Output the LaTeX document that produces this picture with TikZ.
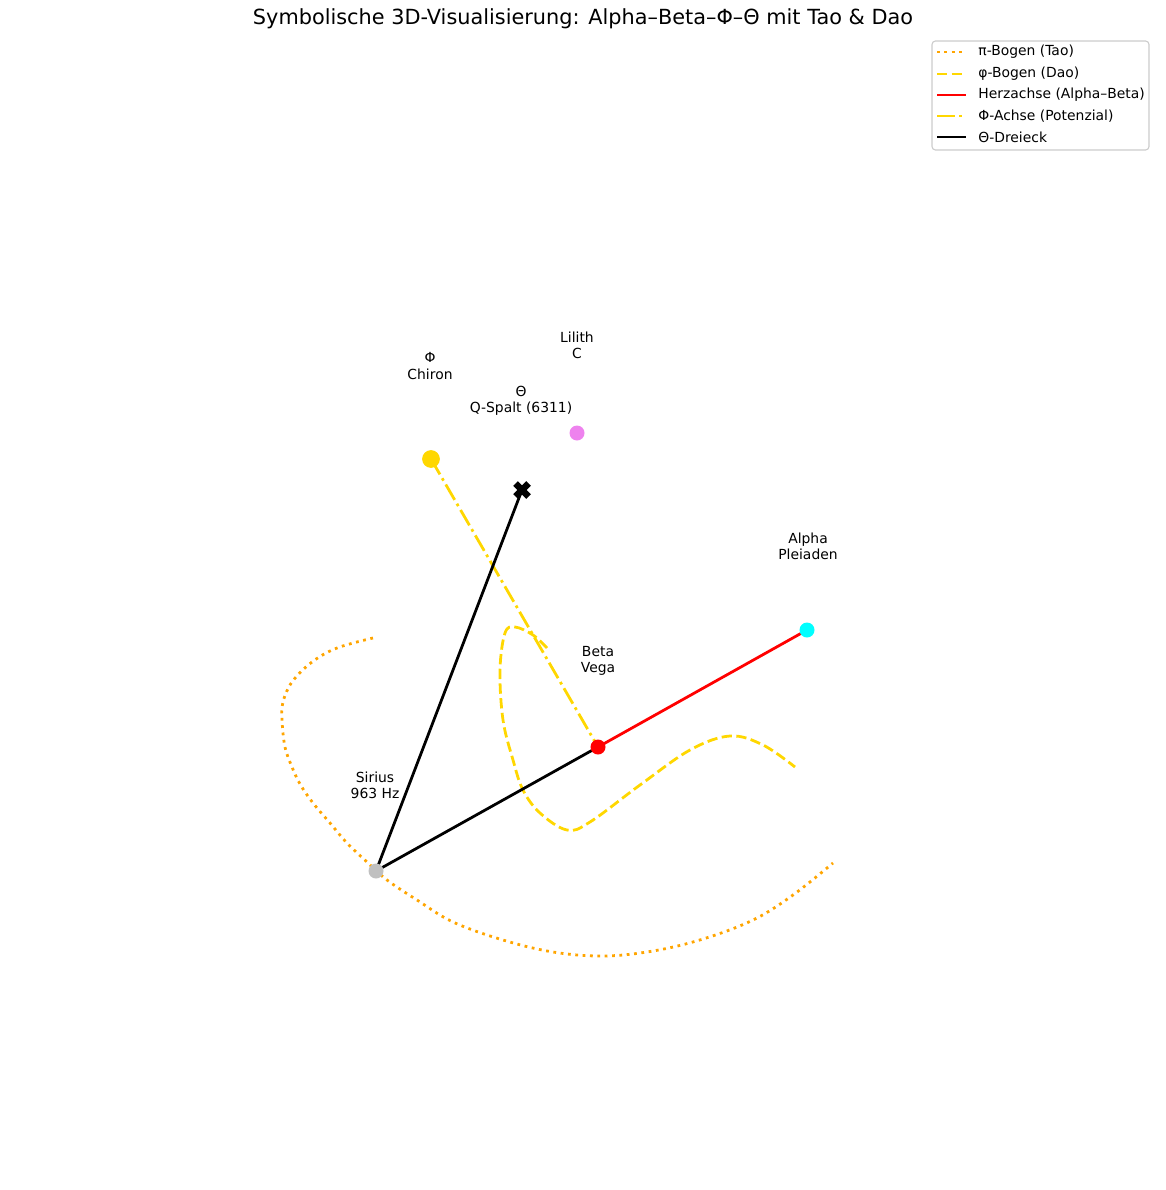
\documentclass[tikz,border=0pt]{standalone}
\usepackage{fontspec}
\setmainfont{DejaVu Sans}

\definecolor{taoorange}{HTML}{FFA500}
\definecolor{daogold}{HTML}{FFD700}
\definecolor{lilithviolet}{HTML}{EE82EE}
\definecolor{siriussilver}{HTML}{C0C0C0}
\definecolor{alphacyan}{HTML}{00FFFF}

\tikzset{every picture/.style={line width=2pt}}
\tikzset{
  taobogen/.style={color=taoorange, dash pattern=on 2pt off 3.3pt},
  daobogen/.style={color=daogold, dash pattern=on 7.4pt off 3.2pt},
  phiachse/.style={color=daogold, dash pattern=on 12.8pt off 3.2pt on 2pt off 3.2pt},
  herzachse/.style={color=red},
  dreieck/.style={color=black},
  star/.style={circle, inner sep=0pt, minimum size=10.8pt},
  starlabel/.style={align=center, inner sep=0pt, font=\fontsize{10}{11.6}\selectfont},
  legtext/.style={anchor=west, inner sep=0pt, font=\fontsize{10}{12}\selectfont}
}

\begin{document}
\begin{tikzpicture}[x=0.72pt,y=0.72pt,yscale=-1,xscale=1]
\useasboundingbox (0,0) rectangle (1165,1190);

% Title
\node (title) at (583,19) {\fontsize{15}{18}\selectfont Symbolische 3D-Visualisierung: Alpha–Beta–Φ–Θ mit Tao \& Dao};

% Points
\coordinate (chiron) at (431,459);
\coordinate (lilith) at (577,433);
\coordinate (theta) at (522,490);
\coordinate (alpha) at (807,630);
\coordinate (beta) at (598,747);
\coordinate (sirius) at (376,871);

%Curve: pi-Bogen (Tao)
\draw [taobogen] plot [smooth, tension=0.6] coordinates {(373,638) (337,648) (312,662) (292,682) (283,702) (282,720) (285,747) (292,767) (300,784) (313,803) (330,823) (347,843) (367,862) (387,880) (417,900) (453,922) (503,940) (553,952) (603,956) (653,951) (703,939) (753,920) (793,895) (833,863)};
%Curve: phi-Bogen (Dao)
\draw [daobogen] plot [smooth, tension=0.6] coordinates {(547,648) (533,635) (515,627) (505,633) (500,670) (503,720) (513,760) (523,790) (540,813) (567,830) (590,822) (640,785) (690,750) (730,736) (763,745) (795,767)};

%Straight Lines: Phi-Achse
\draw [phiachse] (chiron) -- (beta);
%Straight Lines: Herzachse
\draw [herzachse] (beta) -- (alpha);
%Straight Lines: Theta-Dreieck
\draw [dreieck] (sirius) -- (beta);
\draw [dreieck] (sirius) -- (theta);

% Markers
\node [star, fill=daogold, minimum size=12.8pt] (chironpt) at (chiron) {};
\node [star, fill=lilithviolet] (lilithpt) at (lilith) {};
\node [star, fill=alphacyan] (alphapt) at (alpha) {};
\node [star, fill=red] (betapt) at (beta) {};
\node [star, fill=siriussilver] (siriuspt) at (sirius) {};
\draw [line width=4.6pt] (theta) +(-6.5,-6.5) -- +(6.5,6.5) (theta) +(-6.5,6.5) -- +(6.5,-6.5);

% Text Node
\node [starlabel] (chironlbl) at (430,366) {Φ\\Chiron};
% Text Node
\node [starlabel] (lilithlbl) at (577,345) {Lilith\\C};
% Text Node
\node [starlabel] (thetalbl) at (521,401) {Θ\\Q-Spalt (6311)};
% Text Node
\node [starlabel] (alphalbl) at (808,546) {Alpha\\Pleiaden};
% Text Node
\node [starlabel] (betalbl) at (598,661) {Beta\\Vega};
% Text Node
\node [starlabel] (siriuslbl) at (375,785) {Sirius\\963 Hz};

% Legend
\draw [draw=black!20, fill=white, line width=0.8pt, rounded corners=2.5pt] (932,41) rectangle (1149,150);
\draw [taobogen] (937,52) -- (966,52);
\node [legtext] (leg1) at (977,52) {π-Bogen (Tao)};
\draw [daobogen] (937,74) -- (966,74);
\node [legtext] (leg2) at (977,74) {φ-Bogen (Dao)};
\draw [herzachse] (937,95) -- (966,95);
\node [legtext] (leg3) at (977,95) {Herzachse (Alpha–Beta)};
\draw [phiachse] (937,116) -- (966,116);
\node [legtext] (leg4) at (977,116) {Φ-Achse (Potenzial)};
\draw [dreieck] (937,137) -- (966,137);
\node [legtext] (leg5) at (977,137) {Θ-Dreieck};

\end{tikzpicture}
\end{document}
